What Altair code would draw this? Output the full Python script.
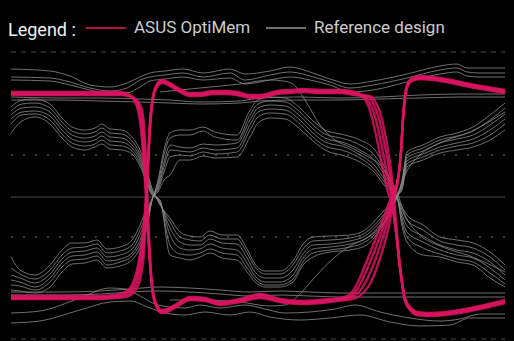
import altair as alt
import pandas as pd

# ---------------- data (time t, level v; v grows downward) ----------------
# ASUS OptiMem traces, family A: high -> low -> high
PA_X = [11, 60, 100, 120, 128, 134, 139, 142, 144, 146, 148, 150, 153, 157, 161, 167, 178, 190, 205, 220, 240, 260, 280, 303, 330, 345, 352, 358, 364, 370, 376, 382, 388, 392, 395, 397, 401, 403, 407, 412, 420, 440, 470, 505]
PA1 = [92, 92, 92, 92, 94, 100, 115, 140, 168, 197, 232, 265, 292, 305, 310, 309, 303, 297, 298, 302, 299, 294, 299, 301, 299, 297, 292, 282, 268, 253, 238, 222, 206, 196, 188, 183, 150, 117, 85, 78, 76, 78, 84, 90]
PA2 = [93, 93, 93, 93, 95, 99, 110, 128, 155, 190, 228, 263, 293, 306, 311, 310, 304, 298, 299, 303, 300, 295, 300, 302, 300, 298, 295, 288, 276, 262, 247, 231, 213, 200, 190, 184, 151, 118, 86, 79, 77, 79, 85, 91]
PA3 = [94, 94, 94, 94, 95, 98, 106, 118, 140, 175, 222, 260, 294, 307, 312, 311, 305, 299, 300, 304, 301, 297, 301, 303, 301, 299, 297, 293, 285, 273, 258, 240, 220, 204, 192, 185, 152, 119, 87, 80, 78, 80, 86, 92]
PA4 = [95, 95, 95, 95, 96, 98, 103, 110, 125, 160, 215, 257, 295, 308, 313, 312, 306, 300, 301, 305, 302, 298, 302, 304, 302, 300, 299, 297, 292, 284, 270, 252, 230, 210, 195, 186, 153, 120, 88, 81, 79, 81, 87, 93]

# ASUS OptiMem traces, family B: low -> high -> low
PB_X = [11, 60, 100, 115, 125, 132, 137, 141, 144, 146, 148, 150, 153, 157, 162, 168, 178, 190, 200, 213, 225, 237, 250, 260, 277, 290, 303, 320, 340, 355, 362, 368, 372, 376, 380, 384, 388, 392, 396, 400, 405, 410, 417, 430, 460, 480, 505]
PB1 = [296, 296, 296, 295, 292, 285, 270, 248, 222, 197, 160, 122, 96, 84, 80, 82, 88, 93, 93, 91, 91, 92, 95, 95, 91, 90, 89, 90, 90, 92, 96, 105, 118, 135, 155, 175, 192, 205, 232, 268, 298, 307, 312, 313, 310, 306, 300]
PB2 = [297, 297, 297, 296, 294, 288, 276, 256, 230, 200, 162, 124, 97, 85, 81, 83, 89, 94, 94, 92, 92, 93, 96, 96, 92, 91, 90, 91, 91, 93, 95, 100, 108, 120, 138, 158, 178, 200, 232, 268, 299, 308, 313, 314, 311, 307, 301]
PB3 = [298, 298, 298, 297, 296, 291, 282, 265, 240, 205, 164, 126, 98, 86, 82, 84, 90, 95, 95, 93, 93, 94, 97, 97, 93, 92, 91, 92, 92, 94, 95, 96, 101, 110, 122, 142, 162, 190, 230, 268, 300, 309, 314, 315, 312, 308, 302]
PB4 = [299, 299, 299, 298, 297, 294, 288, 275, 252, 212, 167, 128, 99, 87, 83, 85, 91, 96, 96, 94, 94, 95, 98, 98, 94, 93, 92, 93, 93, 95, 96, 96, 97, 103, 112, 128, 150, 178, 222, 265, 301, 310, 315, 316, 313, 309, 303]

# Reference design, inner bundle T: top-left -> bottom-mid -> top-right
GT_X = [11, 22, 35, 50, 62, 72, 85, 95, 102, 110, 122, 132, 140, 146, 152, 156, 160, 170, 180, 190, 200, 210, 222, 237, 247, 255, 265, 280, 293, 303, 313, 330, 350, 365, 380, 390, 397, 402, 407, 423, 440, 457, 473, 490, 505]
GT1 = [107, 100, 99, 104, 118, 127, 130, 128, 124, 129, 130, 137, 150, 168, 188, 197, 205, 218, 232, 236, 237, 231, 235, 235, 249, 264, 271, 271, 261, 244, 237, 236, 235, 230, 215, 204, 196, 180, 152, 145, 137, 133, 127, 115, 103]
GT2 = [111, 104, 103, 108, 122, 131, 134, 132, 128, 133, 134, 141, 154, 171, 190, 197, 204, 222, 237, 240, 241, 235, 239, 239, 253, 267, 274, 274, 265, 249, 241, 240, 238, 233, 219, 206, 196, 182, 155, 148, 140, 136, 131, 120, 108]
GT3 = [115, 108, 107, 112, 126, 135, 138, 136, 132, 137, 138, 145, 157, 174, 192, 197, 203, 228, 242, 245, 245, 239, 243, 244, 258, 272, 278, 278, 270, 254, 245, 244, 241, 236, 222, 208, 196, 184, 158, 151, 143, 139, 135, 125, 114]
GT4 = [119, 112, 111, 116, 130, 139, 142, 140, 136, 141, 142, 148, 160, 177, 193, 197, 202, 235, 248, 250, 249, 244, 248, 250, 263, 276, 282, 282, 275, 258, 249, 247, 244, 239, 225, 210, 196, 186, 161, 154, 147, 143, 139, 130, 119]
GT5 = [124, 115, 114, 120, 134, 143, 146, 144, 140, 145, 146, 151, 163, 179, 194, 197, 201, 245, 254, 255, 253, 249, 253, 255, 268, 279, 285, 285, 279, 262, 253, 250, 247, 242, 228, 212, 196, 188, 164, 157, 150, 146, 143, 135, 124]
GT6 = [133, 121, 117, 124, 138, 147, 150, 147, 144, 149, 150, 154, 166, 181, 195, 197, 200, 255, 258, 260, 257, 253, 258, 260, 272, 282, 287, 287, 282, 265, 257, 252, 250, 246, 230, 213, 196, 190, 167, 160, 153, 150, 147, 140, 130]

# Reference design, inner bundle B: bottom-left -> top-mid -> bottom-right
GB_X = [11, 20, 35, 50, 62, 72, 85, 97, 107, 120, 132, 140, 147, 153, 158, 164, 170, 180, 190, 203, 215, 237, 250, 258, 270, 285, 300, 312, 325, 345, 360, 375, 385, 392, 397, 402, 407, 423, 440, 457, 473, 490, 505]
GB1 = [257, 270, 275, 265, 250, 243, 243, 240, 249, 247, 240, 225, 208, 197, 180, 150, 133, 130, 130, 127, 132, 135, 110, 100, 97, 98, 108, 120, 130, 135, 140, 150, 168, 185, 197, 207, 215, 225, 237, 240, 243, 252, 265]
GB2 = [268, 274, 279, 270, 255, 248, 247, 244, 253, 251, 245, 230, 212, 197, 183, 155, 138, 135, 135, 131, 137, 140, 115, 104, 101, 102, 112, 124, 134, 139, 145, 156, 172, 187, 197, 210, 220, 230, 241, 245, 248, 257, 270]
GB3 = [275, 278, 283, 274, 259, 252, 251, 248, 257, 255, 249, 235, 216, 197, 186, 162, 145, 147, 148, 144, 145, 143, 120, 108, 105, 106, 116, 128, 138, 143, 150, 161, 176, 189, 197, 214, 226, 236, 245, 250, 253, 262, 275]
GB4 = [280, 282, 287, 278, 263, 256, 255, 252, 261, 259, 253, 240, 220, 197, 188, 167, 150, 151, 152, 148, 150, 148, 125, 112, 109, 110, 120, 132, 142, 147, 155, 166, 180, 190, 197, 218, 232, 242, 250, 255, 258, 268, 280]
GB5 = [285, 286, 290, 282, 267, 260, 259, 256, 265, 262, 256, 244, 224, 197, 190, 172, 157, 155, 156, 152, 154, 152, 130, 117, 113, 114, 124, 136, 146, 151, 158, 170, 183, 191, 197, 222, 237, 248, 254, 259, 262, 273, 284]
GB6 = [290, 291, 293, 287, 272, 264, 263, 260, 268, 266, 260, 248, 228, 197, 192, 180, 175, 160, 160, 156, 158, 157, 137, 123, 118, 119, 129, 140, 150, 156, 162, 173, 186, 192, 197, 226, 242, 255, 257, 262, 265, 278, 287]

# Reference design, outer high-level traces
O_X = [11, 50, 70, 90, 110, 127, 140, 150, 165, 183, 203, 230, 245, 270, 290, 310, 330, 350, 373, 407, 440, 457, 467, 480, 505]
O1 = [69, 71, 76, 85, 87, 83, 77, 73, 71, 69, 73, 69, 74, 71, 67, 72, 79, 84, 81, 74, 66, 64, 68, 68, 68]
O2 = [77, 78, 82, 88, 91, 88, 80, 77, 75, 73, 77, 73, 80, 75, 72, 76, 82, 88, 85, 78, 70, 68, 72, 73, 73]
O3 = [80, 81, 85, 90, 94, 93, 87, 81, 79, 77, 80, 78, 84, 80, 77, 80, 85, 92, 90, 82, 74, 72, 76, 77, 77]
H_X = [11, 60, 100, 140, 170, 200, 240, 260, 300, 340, 380, 420, 460, 505]
O4 = [97, 98, 98, 99, 100, 102, 101, 98, 97, 98, 97, 95, 94, 94]
O5 = [100, 100, 101, 102, 103, 104, 103, 101, 100, 100, 99, 98, 97, 97]
D1_X = [160, 200, 240, 270, 283, 293, 305, 320, 335, 350, 365, 380, 390, 397, 405, 420, 440, 470, 505]
D1 = [92, 88, 84, 80, 81, 84, 100, 125, 140, 147, 155, 165, 178, 192, 215, 235, 246, 256, 272]

# Reference design, outer low-level traces
L_X = [11, 60, 100, 130, 160, 190, 220, 250, 280, 310, 340, 380, 420, 460, 505]
B1 = [292, 292, 291, 289, 287, 288, 290, 292, 291, 292, 293, 293, 293, 293, 293]
B2 = [295, 295, 294, 292, 291, 292, 294, 296, 295, 296, 297, 297, 297, 297, 297]
B3_X = [11, 40, 80, 110, 125, 140, 155, 170, 185, 200, 220, 245, 265, 285, 310, 335, 355, 380, 410, 440, 460, 480, 505]
B3 = [313, 311, 298, 288, 289, 296, 304, 307, 308, 305, 308, 305, 309, 313, 312, 309, 305, 312, 318, 321, 319, 314, 314]
B4_X = [11, 40, 80, 110, 130, 150, 165, 185, 205, 230, 250, 270, 300, 330, 360, 390, 420, 450, 470, 505]
B4 = [323, 321, 310, 302, 301, 308, 313, 315, 312, 315, 312, 317, 320, 318, 315, 322, 326, 325, 318, 318]
D2_X = [170, 200, 240, 270, 285, 297, 315, 335, 350, 370, 385, 397, 405, 420, 440, 470, 505]
D2 = [300, 300, 302, 306, 305, 297, 277, 257, 246, 236, 221, 198, 175, 155, 143, 132, 112]

# Reference levels (guide lines)
GUIDE_V = [52, 155, 197, 237, 339]
GUIDE_KIND = ["dash", "dot", "solid", "dot", "dash"]
T_START, T_END = 11, 505

PINK = "ASUS OptiMem"
GRAY = "Reference design"

# ---------------- build tables ----------------
rows = []
def add(name, design, xs, ys):
    for t, v in zip(xs, ys):
        rows.append({"trace": name, "design": design, "t": t, "v": v})

for i, ys in enumerate([PA1, PA2, PA3, PA4]):
    add(f"pa{i}", PINK, PA_X, ys)
for i, ys in enumerate([PB1, PB2, PB3, PB4]):
    add(f"pb{i}", PINK, PB_X, ys)
for i, ys in enumerate([GT1, GT2, GT3, GT4, GT5, GT6]):
    add(f"gt{i}", GRAY, GT_X, ys)
for i, ys in enumerate([GB1, GB2, GB3, GB4, GB5, GB6]):
    add(f"gb{i}", GRAY, GB_X, ys)
for i, ys in enumerate([O1, O2, O3]):
    add(f"o{i}", GRAY, O_X, ys)
add("o4", GRAY, H_X, O4)
add("o5", GRAY, H_X, O5)
add("d1", GRAY, D1_X, D1)
add("b1", GRAY, L_X, B1)
add("b2", GRAY, L_X, B2)
add("b3", GRAY, B3_X, B3)
add("b4", GRAY, B4_X, B4)
add("d2", GRAY, D2_X, D2)

df = pd.DataFrame(rows)
guides = pd.DataFrame({"v": GUIDE_V, "kind": GUIDE_KIND, "t0": T_START, "t1": T_END})

xs = alt.Scale(domain=[0, 514])
ys = alt.Scale(domain=[0, 341], reverse=True)

color = alt.Color(
    "design:N",
    scale=alt.Scale(domain=[PINK, GRAY], range=["#dc1460", "#8a8a8a"]),
    legend=alt.Legend(
        title="Legend :", orient="none", legendX=8, legendY=7,
        direction="horizontal", titleOrient="left",
        titleAnchor="end", titleBaseline="alphabetic",
        titleFont="Roboto", titleFontSize=18, titleFontWeight="normal", titleColor="#f2f2f2",
        titlePadding=9,
        labelFont="Roboto", labelFontSize=17, labelColor="#cccccc", labelOffset=7,
        symbolType="stroke", symbolSize=1600, symbolStrokeWidth=2,
        columnPadding=11,
    ),
)

def guide_layer(kind, col, width, dash=None):
    kw = dict(color=col, strokeWidth=width)
    if dash is not None:
        kw["strokeDash"] = dash
    return alt.Chart(guides).transform_filter(alt.datum.kind == kind).mark_rule(**kw).encode(
        x=alt.X("t0:Q", scale=xs, axis=None),
        x2="t1:Q",
        y=alt.Y("v:Q", scale=ys, axis=None),
    )

g_dash = guide_layer("dash", "#4a4a4a", 1, [5, 5])
g_dot = guide_layer("dot", "#4a4a4a", 1.5, [2, 10])
g_solid = guide_layer("solid", "#262626", 2)

gray = alt.Chart(df).transform_filter(alt.datum.design == GRAY).mark_line(
    interpolate="monotone", strokeWidth=1, opacity=0.8
).encode(
    x=alt.X("t:Q", scale=xs, axis=None),
    y=alt.Y("v:Q", scale=ys, axis=None),
    color=color,
    detail="trace:N",
)

pink = alt.Chart(df).transform_filter(alt.datum.design == PINK).mark_line(
    interpolate="monotone", strokeWidth=2.4, opacity=0.85
).encode(
    x=alt.X("t:Q", scale=xs, axis=None),
    y=alt.Y("v:Q", scale=ys, axis=None),
    color=color,
    detail="trace:N",
)

chart = alt.layer(g_dash, g_dot, g_solid, gray, pink).properties(
    width=514, height=341, background="#000000", padding=0, autosize="none"
).configure_view(stroke=None)

chart.save("out.html", embed_options={"renderer": "svg", "actions": False})
